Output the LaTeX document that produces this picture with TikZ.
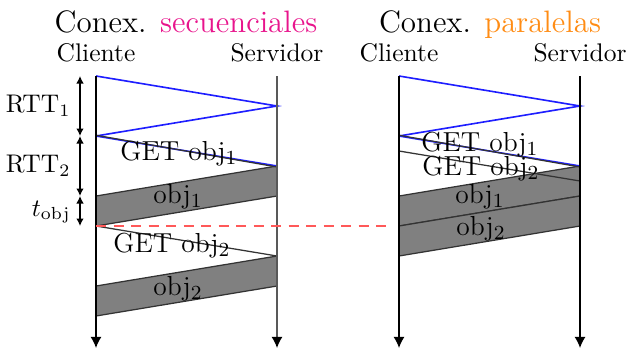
\documentclass[tikz,border=0pt]{standalone}
\usetikzlibrary{arrows.meta}
\definecolor{seqpink}{RGB}{232,20,140}
\definecolor{parorange}{RGB}{255,140,20}
\definecolor{hsblue}{RGB}{30,30,255}
\begin{document}
\begin{tikzpicture}[x=0.4pt,y=-0.4pt,
  timeline/.style={line width=0.6pt,-{Latex[length=4.5pt,width=4.5pt,color=black]}},
  msg/.style={line width=0.5pt,black!80},
  hs/.style={line width=0.65pt,hsblue},
  databox/.style={fill=black!50,draw=black!80,line width=0.5pt},
  span/.style={line width=0.5pt,{Latex[length=3pt,width=3pt]}-{Latex[length=3pt,width=3pt]}},
  lbl/.style={font=\fontsize{11}{13}\selectfont,anchor=base,inner sep=0pt},
  head/.style={font=\fontsize{10.2}{12}\selectfont,anchor=base,inner sep=0pt},
  ttl/.style={font=\fontsize{12.4}{15}\selectfont,anchor=base,inner sep=0pt},
  rtt/.style={font=\fontsize{10.2}{12}\selectfont,anchor=east,inner sep=0pt},
  marker/.style={red!65,line width=0.6pt,dash pattern=on 4pt off 3pt}
]
\useasboundingbox (0,0) rectangle (630,348);

% ---------- headings ----------
\node[ttl] (tseq) at (186,32) {Conex. \textcolor{seqpink}{secuenciales}};
\node[ttl] (tpar) at (490,32) {Conex. \textcolor{parorange}{paralelas}};
\node[head] (hcl) at (96,61) {Cliente};
\node[head] (hsl) at (277,61) {Servidor};
\node[head] (hcr) at (399,61) {Cliente};
\node[head] (hsr) at (580,61) {Servidor};

% ---------- sequential connections ----------
\coordinate (l0) at (96,76);   \coordinate (ls0) at (277,76);
\coordinate (l1) at (277,106);
\coordinate (l2) at (96,136);
\coordinate (l3) at (277,166); \coordinate (l3b) at (277,167);
\coordinate (l4) at (96,196);  \coordinate (l5) at (277,196);
\coordinate (l6) at (96,226);
\coordinate (l7) at (277,256); \coordinate (l8) at (96,286);
\coordinate (l9) at (277,286); \coordinate (l10) at (96,316);
\coordinate (lend) at (96,348); \coordinate (lsend) at (277,348);

\draw[databox] (l4) -- (l3) -- (l5) -- (l6) -- cycle;
\draw[databox] (l8) -- (l7) -- (l9) -- (l10) -- cycle;

\draw[hs] (l0) -- (l1) -- (l2);
\draw[hs] (l2) -- (l3);
\draw[msg] ([yshift=0.3pt]l2) -- (l3b);
\draw[msg] (l6) -- (l7);

\draw[timeline] (l0) -- (lend);
\draw[timeline,black!65] (ls0) -- (lsend);

% time spans on the client side
\coordinate (d0) at (80,76);  \coordinate (d1) at (80,136);
\coordinate (d2) at (80,196); \coordinate (d3) at (80,226);
\draw[span] (d0) -- (d1);
\draw[span] (d1) -- (d2);
\draw[span] (d2) -- (d3);
\node[rtt] (rtt1) at (71,106) {RTT$_1$};
\node[rtt] (rtt2) at (71,166) {RTT$_2$};
\node[rtt] (tobj) at (71,212) {$t_{\mathrm{obj}}$};

\node[lbl] (lget1) at (179,160) {GET obj$_1$};
\node[lbl] (lobj1) at (178,203) {obj$_1$};
\node[lbl] (lget2) at (172,252) {GET obj$_2$};
\node[lbl] (lobj2) at (178,295) {obj$_2$};

% ---------- parallel connections ----------
\coordinate (r0) at (399,76);  \coordinate (rs0) at (580,76);
\coordinate (r1) at (580,106);
\coordinate (r2) at (399,136);
\coordinate (r3) at (580,166); \coordinate (r3b) at (580,167);
\coordinate (r2b) at (399,151); \coordinate (r4) at (580,181);
\coordinate (r5) at (399,196); \coordinate (r6) at (580,196);
\coordinate (r7) at (399,226); \coordinate (r8) at (580,226);
\coordinate (r9) at (399,256);
\coordinate (rend) at (399,348); \coordinate (rsend) at (580,348);

\draw[databox] (r5) -- (r3) -- (r6) -- (r7) -- cycle;
\draw[databox] (r7) -- (r6) -- (r8) -- (r9) -- cycle;

\draw[hs] (r0) -- (r1) -- (r2);
\draw[hs] (r2) -- (r3);
\draw[msg] ([yshift=0.3pt]r2) -- (r3b);
\draw[msg] (r2b) -- (r4);

\draw[timeline] (r0) -- (rend);
\draw[timeline] (rs0) -- (rsend);

\node[lbl] (rget1) at (480,151) {GET obj$_1$};
\node[lbl] (rget2) at (481,175.5) {GET obj$_2$};
\node[lbl] (robj1) at (480,203) {obj$_1$};
\node[lbl] (robj2) at (481,235) {obj$_2$};

% ---------- marker across both diagrams ----------
\coordinate (mk) at (389,226);
\draw[marker] (l6) -- (mk);
\end{tikzpicture}
\end{document}
